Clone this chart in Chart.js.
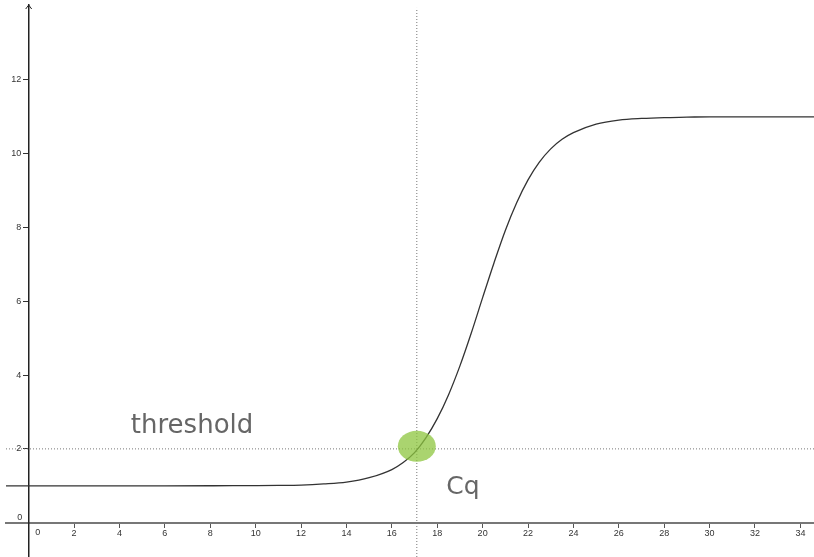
<!DOCTYPE html>
<html>
<head>
<meta charset="utf-8">
<script src="https://cdn.jsdelivr.net/npm/chart.js@4"></script>
<style>
  body { margin: 0; background: #fff; }
  #wrap { width: 814px; height: 557px; }
</style>
</head>
<body>
<div id="wrap"><canvas id="myChart"></canvas></div>
<script>
// amplification curve
var cycles = [-1, 0, 2, 4, 6, 8, 9, 10, 11, 12, 13, 14, 15, 16, 16.5, 17, 17.5, 18, 18.5, 19, 19.5, 20, 20.5, 21, 21.5, 22, 22.5, 23, 23.5, 24, 25, 26, 27, 28, 29, 30, 32, 34.6];
var fluorescence = [1.0, 1.0, 1.0, 1.0, 1.0, 1.001, 1.002, 1.005, 1.01, 1.02, 1.05, 1.1, 1.22, 1.44, 1.63, 1.9, 2.3, 2.82, 3.47, 4.25, 5.14, 6.1, 7.04, 7.92, 8.67, 9.29, 9.77, 10.13, 10.39, 10.57, 10.8, 10.91, 10.956, 10.98, 10.99, 11.0, 11.0, 11.0];

var threshold = 2;
var cq = 17.1;
var xTicks = [2, 4, 6, 8, 10, 12, 14, 16, 18, 20, 22, 24, 26, 28, 30, 32, 34];
var yTicks = [2, 4, 6, 8, 10, 12];

var xMin = -1, xMax = 34.6, yMin = -0.93, yMax = 14.03;

var curve = cycles.map(function (c, i) { return {x: c, y: fluorescence[i]}; });

var extras = {
  id: 'extras',
  afterDatasetsDraw: function (chart) {
    var ctx = chart.ctx, x = chart.scales.x, y = chart.scales.y;
    ctx.save();
    // green marker where the curve crosses the threshold
    ctx.fillStyle = 'rgba(141,198,63,0.75)';
    ctx.beginPath();
    ctx.ellipse(x.getPixelForValue(cq), y.getPixelForValue(2.07), 19, 15.5, 0, 0, Math.PI * 2);
    ctx.fill();

    ctx.fillStyle = '#666';
    ctx.textBaseline = 'alphabetic';
    ctx.textAlign = 'left';
    ctx.font = '26px "DejaVu Sans"';
    ctx.fillText('threshold', x.getPixelForValue(4.5), y.getPixelForValue(2.44));
    ctx.font = '25px "DejaVu Sans"';
    ctx.fillText('Cq', x.getPixelForValue(18.4), y.getPixelForValue(0.78));

    // zero labels
    var x0 = x.getPixelForValue(0), y0 = y.getPixelForValue(0);
    ctx.fillStyle = '#333';
    ctx.font = '9px "Liberation Sans"';
    ctx.textAlign = 'center';
    ctx.textBaseline = 'middle';
    ctx.fillText('0', x0 - 9, y0 - 5);
    ctx.fillText('0', x0 + 9, y0 + 10);

    // arrow on top of the y axis
    ctx.strokeStyle = '#222';
    ctx.lineWidth = 1;
    ctx.beginPath();
    ctx.moveTo(x0 - 3, chart.chartArea.top + 4);
    ctx.lineTo(x0, chart.chartArea.top);
    ctx.lineTo(x0 + 3, chart.chartArea.top + 4);
    ctx.stroke();
    ctx.restore();
  }
};

var ctx = document.getElementById('myChart').getContext('2d');
var myChart = new Chart(ctx, {
  type: 'line',
  data: {
    datasets: [{
      label: 'curve',
      data: curve,
      borderColor: '#333',
      borderWidth: 1.3,
      pointRadius: 0,
      cubicInterpolationMode: 'monotone',
      order: 1
    }, {
      label: 'threshold',
      data: [{x: xMin, y: threshold}, {x: xMax, y: threshold}],
      borderColor: '#777',
      borderWidth: 1,
      borderDash: [1, 2],
      pointRadius: 0,
      order: 2
    }, {
      label: 'cq',
      data: [{x: cq, y: yMin}, {x: cq, y: 13.95}],
      borderColor: '#777',
      borderWidth: 1,
      borderDash: [1, 2],
      pointRadius: 0,
      order: 3
    }]
  },
  options: {
    responsive: true,
    maintainAspectRatio: false,
    animation: false,
    layout: { padding: { left: 6, top: 5, right: 0, bottom: 0 } },
    plugins: { legend: { display: false }, tooltip: { enabled: false } },
    scales: {
      x: {
        type: 'linear',
        min: xMin,
        max: xMax,
        position: { y: 0 },
        afterBuildTicks: function (s) { s.ticks = xTicks.map(function (v) { return {value: v}; }); },
        afterFit: function (s) { s.paddingLeft = 0; s.paddingRight = 0; },
        ticks: { font: { family: 'Liberation Sans', size: 9 }, color: '#333', padding: 1, maxRotation: 0, autoSkip: false },
        grid: { drawOnChartArea: false, tickLength: 4, color: '#555', tickWidth: 1 },
        border: { color: '#777', width: 2 }
      },
      y: {
        type: 'linear',
        min: yMin,
        max: yMax,
        position: { x: 0 },
        afterBuildTicks: function (s) { s.ticks = yTicks.map(function (v) { return {value: v}; }); },
        afterFit: function (s) { s.paddingTop = 0; s.paddingBottom = 0; },
        ticks: {
          font: { family: 'Liberation Sans', size: 9 },
          color: '#333',
          autoSkip: false,
          callback: function (v) { return v + '   '; }
        },
        grid: { drawOnChartArea: false, tickLength: 5, color: '#333', tickWidth: 1 },
        border: { color: '#222', width: 1.5 }
      }
    }
  },
  plugins: [extras]
});
</script>
</body>
</html>
